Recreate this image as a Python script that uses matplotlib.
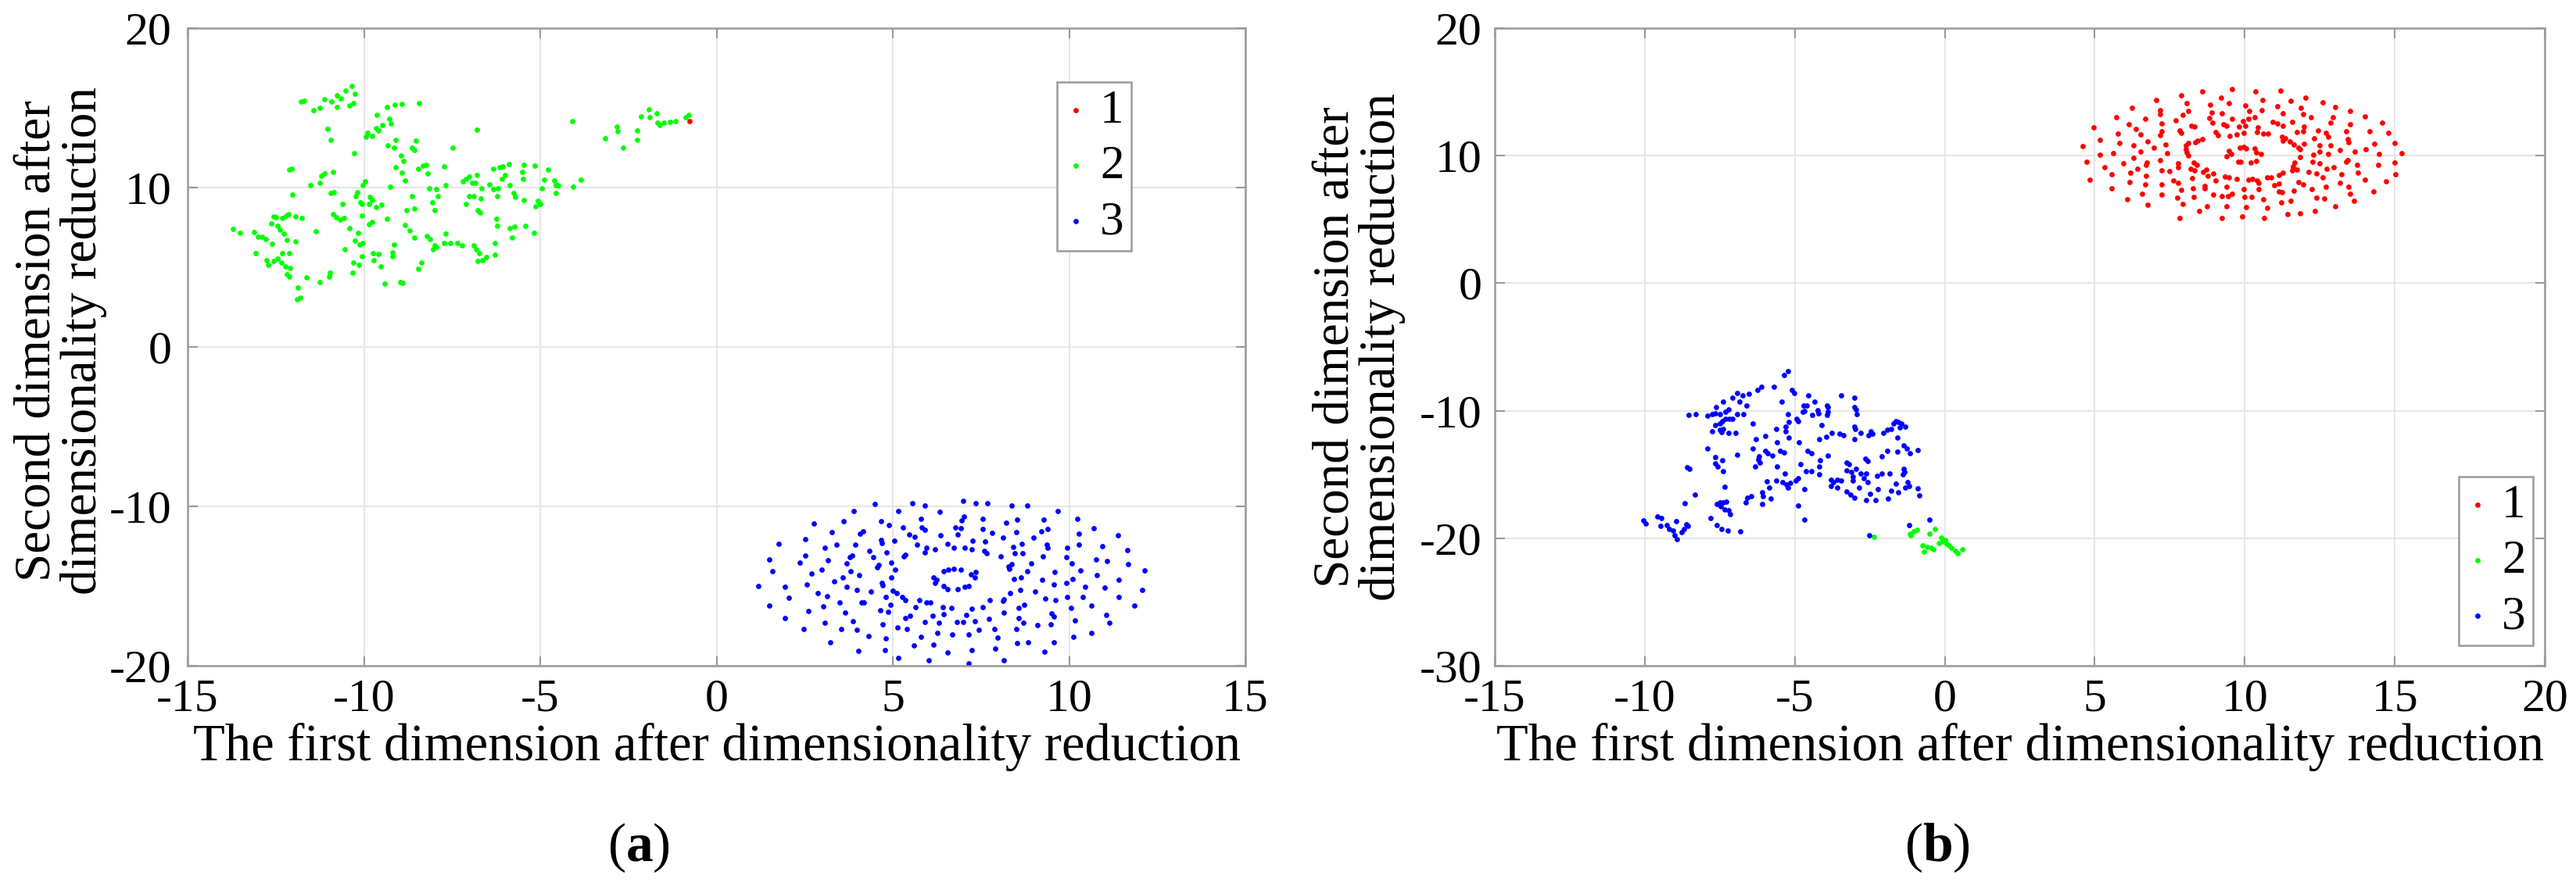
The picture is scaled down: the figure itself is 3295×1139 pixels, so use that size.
import numpy as np
import matplotlib
matplotlib.use("Agg")
from matplotlib import pyplot as plt

# ---- panel (a): points (x, y) ----
a_class1 = [(-0.76, 14.15)]

a_class2 = [
    (-11.78, 15.38), (-11.7, 15.46), (-11.44, 14.85), (-11.25, 15.0), (-11.13, 15.54), (-10.93, 15.38),
    (-10.77, 15.05), (-10.77, 15.79), (-10.66, 15.57), (-10.53, 16.07), (-10.34, 16.36), (-10.26, 15.9),
    (-10.4, 15.13), (-10.3, 15.3), (-11.02, 13.7), (-10.94, 12.97), (-10.28, 12.15), (-9.63, 14.56),
    (-9.35, 15.05), (-9.12, 15.2), (-8.92, 15.25), (-8.44, 15.3), (-9.29, 14.31), (-9.49, 13.9),
    (-9.66, 13.74), (-9.89, 13.41), (-9.77, 13.25), (-9.6, 13.57), (-9.94, 13.2), (-9.24, 14.03),
    (-6.79, 13.62), (-9.32, 12.67), (-9.15, 12.5), (-9.1, 13.0), (-8.95, 12.0), (-8.87, 11.69),
    (-8.64, 12.5), (-8.53, 12.92), (-8.57, 12.34), (-7.49, 12.49), (-9.1, 11.28), (-8.93, 10.95),
    (-8.47, 11.2), (-8.33, 11.36), (-8.24, 11.44), (-8.19, 10.87), (-7.73, 11.31), (-8.84, 10.43),
    (-12.12, 11.11), (-12.04, 11.2), (-11.21, 10.75), (-11.13, 10.87), (-10.87, 11.0), (-11.51, 10.13),
    (-11.25, 10.3), (-12.02, 9.56), (-10.94, 9.67), (-10.85, 9.72), (-9.97, 10.38), (-10.04, 10.13),
    (-9.26, 10.05), (-10.19, 9.72), (-10.23, 9.48), (-10.11, 9.07), (-10.06, 8.98), (-9.83, 9.39),
    (-9.77, 9.23), (-9.85, 8.98), (-10.62, 8.98), (-9.66, 8.79), (-9.51, 8.9), (-8.64, 9.48),
    (-8.07, 9.07), (-7.99, 8.57), (-8.15, 9.97), (-7.96, 9.92), (-7.9, 9.48), (-7.68, 10.13),
    (-8.79, 8.57), (-8.58, 8.66), (-10.87, 8.33), (-10.79, 8.16), (-10.68, 8.0), (-10.57, 8.08),
    (-10.06, 8.25), (-9.77, 7.84), (-9.85, 7.7), (-9.35, 8.03), (-10.4, 7.43), (-10.17, 7.18),
    (-10.26, 6.69), (-10.12, 6.44), (-10.03, 6.52), (-10.54, 6.15), (-11.36, 7.26), (-12.55, 8.21),
    (-12.5, 8.16), (-12.32, 8.08), (-12.21, 8.25), (-12.15, 8.33), (-11.95, 8.21), (-11.76, 8.11),
    (-12.63, 7.75), (-12.44, 7.59), (-12.38, 7.34), (-12.27, 7.13), (-13.71, 7.38), (-13.51, 7.18),
    (-13.12, 7.21), (-13.0, 6.93), (-12.89, 6.89), (-12.78, 6.77), (-12.61, 6.49), (-12.19, 6.72),
    (-11.93, 6.64), (-13.08, 5.87), (-12.75, 5.46), (-12.71, 5.13), (-12.55, 5.38), (-12.44, 5.54),
    (-12.32, 5.87), (-12.12, 5.87), (-12.35, 5.3), (-12.23, 5.05), (-12.1, 4.97), (-12.19, 4.56),
    (-12.12, 4.39), (-11.64, 4.34), (-11.87, 3.74), (-11.9, 3.0), (-11.81, 3.08), (-11.25, 4.07),
    (-10.99, 4.39), (-10.96, 4.64), (-10.32, 4.64), (-10.31, 5.3), (-10.14, 5.13), (-10.06, 5.7),
    (-9.74, 5.87), (-9.72, 5.46), (-9.58, 5.84), (-9.53, 5.05), (-9.2, 5.95), (-9.2, 5.7),
    (-9.41, 3.98), (-8.98, 4.07), (-8.9, 4.03), (-9.15, 6.44), (-8.83, 7.67), (-8.7, 7.31),
    (-8.58, 6.85), (-8.47, 4.89), (-8.36, 5.3), (-8.22, 6.98), (-8.13, 6.77), (-8.0, 6.39),
    (-8.04, 6.11), (-7.96, 6.28), (-7.68, 7.1), (-7.73, 6.52), (-7.56, 6.52), (-7.34, 6.52),
    (-7.22, 6.39), (-6.88, 6.36), (-6.82, 6.11), (-6.74, 5.87), (-6.77, 5.38), (-6.65, 5.46),
    (-6.54, 5.62), (-6.28, 5.79), (-6.28, 6.52), (-6.25, 8.03), (-6.23, 7.59), (-5.86, 7.43),
    (-5.74, 7.54), (-5.43, 7.59), (-5.18, 7.18), (-5.8, 6.85), (-6.71, 8.41), (-6.77, 8.57),
    (-7.11, 8.98), (-7.02, 9.48), (-6.88, 9.48), (-6.68, 9.31), (-7.19, 10.38), (-7.11, 10.54),
    (-7.02, 10.7), (-6.79, 10.79), (-6.94, 10.3), (-6.83, 10.3), (-6.66, 9.97), (-6.45, 10.21),
    (-6.34, 9.89), (-6.2, 9.97), (-6.23, 9.48), (-6.32, 11.2), (-6.15, 11.28), (-6.06, 11.31),
    (-5.89, 11.48), (-6.0, 10.79), (-6.09, 10.54), (-5.87, 10.13), (-5.76, 9.64), (-5.7, 9.39),
    (-5.47, 9.23), (-5.52, 10.98), (-5.47, 11.44), (-5.15, 11.36), (-5.49, 10.54), (-5.07, 9.15),
    (-5.13, 8.82), (-5.01, 8.98), (-4.9, 10.49), (-4.95, 9.97), (-4.78, 11.11), (-4.61, 10.46),
    (-4.56, 10.13), (-4.56, 9.64), (-4.5, 10.16), (-4.07, 10.05), (-3.84, 10.49), (-4.1, 14.15),
    (-3.16, 13.08), (-2.82, 13.82), (-2.8, 13.54), (-2.66, 12.51), (-2.26, 13.57), (-2.24, 13.0),
    (-2.15, 14.48), (-1.92, 14.92), (-1.89, 14.43), (-1.69, 14.64), (-1.67, 14.07), (-1.61, 13.9),
    (-1.5, 14.07), (-1.33, 14.1), (-1.16, 14.18), (-0.87, 14.39), (-0.78, 14.56),
]

a_class3 = [
    (4.49, -9.87), (3.9, -10.28), (5.56, -9.8), (5.92, -9.95), (6.32, -10.33), (7.0, -9.67),
    (7.34, -9.8), (7.69, -9.8), (8.36, -9.95), (8.81, -9.95), (9.67, -10.28), (10.24, -10.77),
    (10.69, -11.39), (11.39, -11.8), (11.66, -12.73), (12.15, -14.04), (11.68, -13.64), (12.08, -15.23),
    (11.85, -16.24), (11.41, -15.69), (11.14, -17.32), (11.06, -16.83), (10.63, -17.96), (10.12, -18.17),
    (9.57, -18.53), (9.3, -19.12), (8.83, -18.53), (8.53, -18.58), (8.15, -19.67), (7.9, -18.9),
    (7.24, -19.02), (7.14, -19.85), (6.55, -19.15), (6.03, -19.67), (6.15, -18.66), (5.59, -18.74),
    (5.16, -19.51), (4.78, -19.02), (4.02, -19.07), (3.22, -18.53), (2.48, -17.68), (1.95, -17.03),
    (1.49, -16.21), (1.19, -14.98), (1.59, -14.05), (1.49, -13.35), (1.77, -12.37), (2.51, -12.04),
    (2.75, -11.06), (3.6, -10.95), (3.27, -11.63),
    (1.94, -15.03), (2.06, -15.75), (2.36, -13.55), (2.51, -13.07), (2.56, -14.9), (2.61, -16.57),
    (2.7, -14.22), (2.88, -15.44), (3.03, -16.29), (3.06, -17.32), (2.98, -13.96), (3.08, -12.58),
    (3.17, -13.37), (3.14, -15.64), (3.33, -14.69), (3.41, -12.41), (3.5, -16.05), (3.54, -17.71),
    (3.59, -14.44), (3.65, -16.67), (3.69, -13.6), (3.7, -15.03), (3.77, -13.19), (3.8, -14.05),
    (3.85, -13.1), (3.87, -17.19), (3.93, -12.42), (3.97, -15.23), (3.97, -17.73), (4.04, -14.33),
    (4.07, -11.72), (4.15, -11.55), (4.12, -16.05), (4.19, -16.05), (4.31, -18.12), (4.33, -12.81),
    (4.39, -15.34), (4.45, -13.2), (4.56, -13.81), (4.61, -13.7), (4.64, -16.5), (4.66, -10.95),
    (4.66, -12.12), (4.69, -12.29), (4.7, -14.82), (4.72, -14.93), (4.72, -17.4), (4.8, -18.28),
    (4.82, -12.9), (4.81, -15.69), (4.86, -16.62), (4.9, -11.18), (4.93, -16.18), (4.96, -13.55),
    (4.96, -14.46), (5.01, -15.31), (5.04, -12.15), (5.06, -13.97), (5.11, -15.43), (5.14, -17.6),
    (5.16, -10.28), (5.28, -11.31), (5.26, -15.69), (5.31, -13.14), (5.36, -13.04), (5.36, -16.99),
    (5.36, -15.88), (5.41, -17.68), (5.46, -11.77), (5.48, -16.86), (5.63, -11.9), (5.65, -16.33),
    (5.68, -12.4), (5.75, -15.88), (5.8, -18.17), (5.8, -10.77), (5.83, -11.34), (5.91, -11.45),
    (5.95, -12.6), (5.9, -12.9), (5.92, -17.24), (5.95, -16.05), (6.07, -16.05), (6.12, -16.86),
    (6.15, -14.44), (6.2, -12.68), (6.2, -14.82), (6.27, -17.96), (6.35, -11.8), (6.42, -16.33),
    (6.45, -16.78), (6.45, -14.08), (6.3, -17.32), (6.55, -12.37), (6.55, -15.2), (6.57, -13.96),
    (6.69, -18.04), (6.67, -16.38), (6.73, -12.61), (6.77, -11.34), (6.82, -17.24), (6.85, -11.75),
    (6.93, -13.96), (6.94, -11.37), (6.96, -10.9), (7.02, -10.65), (6.83, -15.2), (6.99, -17.24),
    (7.04, -12.61), (7.04, -15.07), (7.09, -16.81), (7.14, -18.06), (7.16, -14.98), (7.22, -14.25),
    (7.24, -12.7), (7.24, -16.41), (7.27, -12.16), (7.33, -14.44), (7.32, -17.19), (7.34, -14.12),
    (7.44, -17.73), (7.54, -10.77), (7.54, -11.42), (7.54, -16.33), (7.6, -12.78), (7.62, -12.22),
    (7.66, -12.92), (7.72, -17.06), (7.76, -15.88), (7.82, -11.69), (7.89, -17.71), (7.97, -18.25),
    (8.07, -13.14), (8.15, -16.65), (8.13, -11.98), (8.13, -15.93), (8.15, -15.85), (8.21, -11.03),
    (8.29, -13.78), (8.31, -13.94), (8.33, -15.44), (8.38, -13.61), (8.41, -12.53), (8.43, -14.54),
    (8.46, -12.94), (8.5, -11.63), (8.53, -10.82), (8.5, -17.68), (8.56, -16.37), (8.58, -16.99),
    (8.61, -15.26), (8.63, -14.46), (8.65, -12.34), (8.68, -12.94), (8.7, -17.29), (8.73, -16.2),
    (8.81, -14.05), (8.93, -13.6), (9.0, -11.98), (9.03, -15.36), (9.11, -17.45), (9.21, -11.59),
    (9.23, -14.61), (9.25, -13.14), (9.28, -10.82), (9.33, -15.8), (9.36, -12.42), (9.38, -11.42),
    (9.4, -12.61), (9.47, -17.4), (9.5, -16.7), (9.57, -14.9), (9.57, -16.9), (9.6, -14.12),
    (9.62, -15.88), (9.92, -13.17), (9.92, -14.82), (9.94, -12.61), (9.95, -15.67), (10.05, -16.37),
    (10.07, -13.56), (10.1, -14.54), (10.17, -17.14), (10.27, -11.72), (10.27, -12.4), (10.32, -14.0),
    (10.39, -15.67), (10.45, -15.03), (10.63, -16.21), (10.76, -13.35), (10.79, -14.3), (10.94, -12.48),
    (11.01, -15.1), (11.08, -13.43), (11.41, -14.61), (6.25, -14.6), (6.45, -15.0), (6.73, -13.92),
]

# ---- panel (b) ----
b_class1 = [
    (9.57, 15.24), (8.58, 15.04), (10.35, 15.04), (11.19, 15.1), (7.87, 14.7), (7.04, 14.37),
    (9.22, 14.53), (8.06, 14.13), (9.48, 14.13), (10.59, 14.37), (12.03, 14.53), (11.52, 14.29),
    (12.61, 14.19), (8.85, 14.02), (10.03, 13.96), (6.24, 13.76), (11.09, 13.88), (11.87, 13.78),
    (13.02, 13.82), (7.19, 13.56), (8.11, 13.48), (8.9, 13.41), (9.23, 13.35), (10.16, 13.52),
    (10.57, 13.58), (11.28, 13.35), (11.96, 13.27), (13.5, 13.52), (7.17, 13.27), (5.71, 13.01),
    (6.67, 12.87), (7.93, 13.21), (7.7, 12.8), (8.81, 12.95), (9.57, 12.91), (10.13, 12.87),
    (10.32, 13.01), (9.94, 12.7), (12.2, 13.01), (12.93, 13.01), (14.0, 13.07), (12.87, 12.6),
    (4.96, 12.2), (6.13, 12.46), (7.22, 12.54), (8.93, 12.6), (9.29, 12.46), (9.39, 12.36),
    (9.81, 12.3), (10.03, 12.36), (10.93, 12.66), (11.09, 12.5), (11.26, 12.36), (11.59, 12.66),
    (11.98, 12.3), (13.5, 12.46), (14.57, 12.6), (6.37, 12.09), (7.83, 11.95), (8.22, 12.36),
    (8.32, 12.3), (10.43, 12.2), (5.78, 11.75), (6.52, 11.65), (7.24, 11.89), (7.19, 11.59),
    (7.89, 11.79), (9.04, 11.83), (9.1, 11.63), (9.5, 11.52), (9.74, 11.69), (9.96, 11.79),
    (10.41, 11.83), (10.63, 11.75), (10.78, 11.75), (11.74, 11.85), (11.96, 11.89), (12.45, 11.99),
    (12.7, 11.79), (12.77, 11.48), (13.37, 11.93), (14.16, 11.93), (14.78, 11.79), (5.17, 11.24),
    (6.77, 11.14), (8.58, 11.32), (8.43, 11.18), (8.36, 11.04), (11.24, 11.48), (11.34, 11.38),
    (11.28, 11.18), (11.5, 11.14), (12.3, 11.38), (13.43, 11.32), (14.99, 11.02), (4.61, 10.77),
    (5.83, 11.02), (6.3, 10.81), (6.98, 10.63), (7.37, 10.87), (8.04, 10.83), (8.11, 11.02),
    (11.63, 10.89), (11.98, 10.93), (12.5, 10.83), (12.85, 10.83), (13.45, 11.04), (14.33, 10.93),
    (11.78, 10.61), (8.03, 10.51), (9.48, 10.37), (9.54, 10.16), (9.83, 10.61), (9.96, 10.67),
    (10.04, 10.57), (10.32, 10.57), (10.39, 10.26), (10.54, 10.12), (11.84, 10.51), (13.16, 10.47),
    (14.04, 10.53), (6.52, 10.32), (7.4, 10.2), (8.07, 10.26), (5.17, 10.06), (5.61, 10.2),
    (8.11, 10.02), (9.39, 9.96), (12.28, 10.06), (12.49, 10.32), (12.79, 10.12), (13.67, 10.32),
    (14.48, 10.12), (15.24, 10.22), (4.72, 9.55), (6.3, 9.8), (7.17, 9.65), (6.74, 9.49),
    (11.84, 9.86), (9.78, 9.55), (9.87, 9.55), (10.2, 9.49), (10.39, 9.61), (5.96, 9.41),
    (6.7, 9.25), (7.78, 9.39), (7.77, 9.09), (8.3, 9.45), (8.39, 9.29), (12.26, 9.55),
    (12.5, 9.39), (13.42, 9.65), (13.37, 9.51), (14.99, 9.45), (11.65, 9.45), (5.32, 9.11),
    (11.61, 9.15), (13.74, 9.25), (14.46, 9.25), (6.43, 8.94), (7.23, 8.84), (7.5, 8.8),
    (8.2, 8.98), (8.32, 8.84), (8.61, 8.74), (8.72, 8.88), (11.57, 8.84), (11.74, 8.9),
    (12.72, 8.94), (12.97, 9.11), (5.57, 8.54), (6.19, 8.68), (6.7, 8.43), (8.78, 8.43),
    (8.96, 8.58), (9.35, 8.33), (9.48, 8.29), (9.72, 8.19), (10.13, 8.13), (10.26, 8.19),
    (10.41, 8.07), (10.74, 8.27), (10.87, 8.27), (11.13, 8.5), (11.28, 8.64), (12.13, 8.7),
    (12.39, 8.6), (12.59, 8.29), (13.22, 8.54), (13.78, 8.68), (15.01, 8.54), (4.84, 8.13),
    (8.25, 8.23), (7.61, 8.03), (14.0, 8.13), (6.16, 7.93), (6.67, 7.72), (7.22, 7.72),
    (7.77, 7.87), (8.67, 7.62), (8.67, 7.42), (9.03, 8.03), (9.39, 7.58), (10.46, 7.89),
    (10.98, 7.68), (11.15, 7.78), (11.78, 7.93), (11.96, 7.72), (12.7, 7.58), (13.16, 7.87),
    (13.46, 7.58), (14.7, 7.97), (5.57, 7.42), (7.87, 7.32), (8.28, 7.42), (9.96, 7.36),
    (10.46, 7.36), (11.15, 7.17), (11.24, 7.11), (11.63, 7.26), (12.24, 7.4), (13.52, 7.01),
    (14.3, 7.17), (6.57, 7.01), (7.24, 6.95), (8.96, 6.95), (9.23, 6.85), (9.45, 6.81),
    (9.57, 7.01), (6.09, 6.57), (7.76, 6.71), (8.3, 6.77), (10.0, 6.75), (10.24, 6.77),
    (10.63, 6.61), (11.22, 6.36), (11.52, 6.44), (12.39, 6.71), (12.66, 6.65), (13.65, 6.44),
    (6.76, 6.14), (7.93, 6.24), (8.74, 6.06), (9.39, 6.04), (10.04, 5.96), (10.76, 5.89),
    (13.02, 6.04), (8.48, 5.69), (12.35, 5.69), (11.42, 5.39), (11.83, 5.49), (7.84, 5.14),
    (9.23, 5.08), (9.91, 5.22), (10.65, 5.14),
]

b_class2 = [
    (-2.37, -19.86), (-1.15, -19.65), (-1.02, -19.45), (-0.94, -19.35), (-1.13, -19.76), (-0.52, -19.65),
    (-0.33, -19.25), (-0.75, -20.57), (-0.69, -21.08), (-0.6, -20.67), (-0.47, -20.77), (-0.37, -20.87),
    (-0.2, -20.37), (-0.07, -20.26), (0.02, -20.16), (0.06, -20.47), (0.15, -20.57), (0.23, -20.77),
    (0.36, -20.98), (0.43, -21.18), (0.58, -20.87), (-0.11, -19.96),
]

b_class3 = [
    (-5.24, -6.9), (-5.35, -7.18), (-5.7, -8.15), (-5.1, -8.37), (-5.02, -8.6), (-6.25, -8.37),
    (-6.11, -8.15), (-6.52, -8.7), (-6.74, -8.8), (-6.93, -8.6), (-7.07, -9.0), (-7.4, -9.3),
    (-7.62, -9.7), (-6.85, -9.26), (-7.3, -10.1), (-4.55, -8.8), (-4.34, -9.3), (-4.6, -9.6),
    (-3.93, -9.6), (-3.46, -8.8), (-3.02, -9.0), (-3.02, -9.7), (-3.9, -10.1), (-5.43, -9.3),
    (-4.74, -10.1),
    (-8.53, -10.35), (-8.31, -10.26), (-7.92, -10.41), (-7.76, -10.26), (-7.64, -10.2), (-7.5, -10.24),
    (-7.22, -9.9), (-6.92, -10.3), (-6.7, -10.3), (-6.6, -9.59), (-5.23, -10.3), (-4.71, -9.59),
    (-4.67, -10.0), (-4.41, -10.35), (-4.23, -9.94), (-4.21, -10.2), (-3.93, -10.35), (-3.89, -9.7),
    (-2.96, -9.9), (-2.93, -10.3), (-7.64, -11.12), (-7.5, -11.02), (-7.42, -10.81), (-7.31, -10.61),
    (-7.18, -10.61), (-7.09, -10.61), (-7.75, -11.59), (-7.5, -11.52), (-7.44, -11.69), (-7.4, -11.42),
    (-7.21, -11.73), (-6.98, -11.73), (-6.4, -11.02), (-5.62, -11.46), (-5.21, -10.91), (-5.31, -11.28),
    (-5.31, -11.63), (-4.93, -10.61), (-4.88, -10.81), (-4.1, -11.12), (-3.76, -11.73), (-3.95, -12.03),
    (-4.19, -12.24), (-3.5, -11.83), (-3.37, -11.93), (-3.02, -11.22), (-2.98, -11.42), (-2.8, -11.73),
    (-2.54, -11.93), (-2.41, -11.83), (-2.46, -11.63), (-3.02, -12.2), (-2.06, -11.73), (-1.93, -11.52),
    (-1.8, -11.42), (-1.72, -11.02), (-1.63, -10.81), (-1.54, -10.91), (-1.45, -11.02), (-1.33, -11.22),
    (-1.5, -11.32), (-1.57, -12.09), (-6.29, -12.2), (-5.99, -11.97), (-5.59, -12.5), (-5.19, -12.13),
    (-4.87, -12.5), (-7.9, -12.95), (-6.92, -13.46), (-6.4, -12.95), (-6.2, -13.56), (-6.23, -13.82),
    (-6.31, -14.37), (-6.17, -14.07), (-5.97, -13.15), (-5.91, -13.35), (-5.75, -13.52), (-5.49, -13.15),
    (-5.36, -13.25), (-5.58, -14.37), (-4.58, -13.15), (-4.45, -13.35), (-3.89, -13.52), (-4.15, -13.86),
    (-4.19, -14.37), (-4.19, -14.98), (-4.81, -14.17), (-4.64, -14.74), (-4.45, -14.74), (-1.93, -13.15),
    (-2.09, -13.56), (-1.58, -13.19), (-1.37, -12.74), (-1.26, -12.95), (-1.15, -13.31), (-0.89, -13.09),
    (-7.66, -13.66), (-7.64, -14.13), (-7.57, -14.37), (-7.42, -13.86), (-7.38, -14.74), (-8.59, -14.41),
    (-8.52, -14.57), (-5.33, -14.94), (-5.94, -15.55), (-5.62, -15.49), (-5.84, -16.0), (-6.1, -16.4),
    (-6.05, -16.71), (-6.57, -16.81), (-6.44, -16.71), (-6.63, -17.22), (-6.1, -17.32), (-5.79, -16.91),
    (-5.4, -15.59), (-5.27, -15.79), (-5.16, -15.69), (-5.23, -16.0), (-4.97, -15.49), (-4.9, -15.29),
    (-4.69, -16.16), (-4.9, -17.42), (-4.69, -18.54), (-7.33, -15.96), (-8.33, -16.61), (-8.67, -17.28),
    (-7.61, -17.32), (-7.5, -17.17), (-7.4, -17.22), (-7.29, -17.11), (-7.48, -17.52), (-7.35, -17.72),
    (-7.22, -17.83), (-7.16, -18.09), (-7.81, -18.39), (-7.61, -18.98), (-7.44, -19.25), (-7.24, -19.39),
    (-6.81, -19.45), (-10.06, -18.6), (-9.97, -18.84), (-9.57, -18.27), (-9.44, -18.43), (-9.48, -19.05),
    (-9.26, -18.94), (-9.18, -19.25), (-9.06, -19.41), (-8.96, -18.64), (-9.0, -19.76), (-8.94, -20.06),
    (-8.76, -19.55), (-8.7, -19.25), (-8.61, -18.88), (-8.57, -19.05), (-3.8, -15.39), (-3.71, -15.59),
    (-3.58, -15.39), (-3.45, -15.49), (-3.8, -15.9), (-3.58, -16.0), (-3.28, -14.07), (-3.19, -14.21),
    (-3.28, -14.67), (-3.11, -14.78), (-2.95, -14.53), (-3.07, -15.19), (-3.07, -15.49), (-2.86, -16.0),
    (-2.8, -14.94), (-2.71, -15.29), (-2.62, -14.94), (-2.66, -13.76), (-2.58, -13.92), (-2.56, -15.59),
    (-2.5, -16.5), (-2.62, -17.01), (-2.32, -17.01), (-3.28, -16.36), (-3.15, -16.61), (-3.02, -16.81),
    (-2.25, -15.08), (-2.11, -14.94), (-1.85, -14.94), (-2.24, -16.16), (-1.8, -16.3), (-1.89, -16.91),
    (-1.63, -15.75), (-1.55, -16.4), (-1.37, -14.57), (-1.39, -14.98), (-1.34, -14.78), (-1.33, -16.0),
    (-1.24, -15.59), (-1.2, -15.9), (-0.89, -16.1), (-0.85, -16.65), (-1.2, -18.94), (-0.52, -18.54),
    (-2.52, -19.76),
]

labels = ["1", "2", "3"]
colors = ["#ff0000", "#00ff00", "#0000ff"]
xlabel = "The first dimension after dimensionality reduction"
ylabel = "Second dimension after\ndimensionality reduction"

plt.rcParams["font.family"] = ["Liberation Serif", "DejaVu Serif"]
plt.rcParams["mathtext.fontset"] = "custom"
plt.rcParams["mathtext.rm"] = "Liberation Serif"
plt.rcParams["mathtext.bf"] = "Liberation Serif:bold"
plt.rcParams["axes.unicode_minus"] = False

W, H = 3295, 1139
fig = plt.figure(figsize=(W / 100, H / 100), dpi=100)

frame_col = "#9a9a9a"
grid_col = "#e6e6e6"


def px_axes(x0, y0, x1, y1):
    return fig.add_axes([x0 / W, 1 - y1 / H, (x1 - x0) / W, (y1 - y0) / H])


def style(ax, xlim, ylim, xticks, yticks, ypad):
    ax.set_xlim(*xlim)
    ax.set_ylim(*ylim)
    ax.set_xticks(xticks)
    ax.set_yticks(yticks)
    ax.grid(True, color=grid_col, linewidth=1.5)
    ax.set_axisbelow(True)
    for s in ax.spines.values():
        s.set_color(frame_col)
        s.set_linewidth(1.8)
    ax.tick_params(direction="in", top=True, right=True, length=9, width=1.5,
                   color=frame_col, labelsize=43, labelcolor="black")
    ax.tick_params(axis="x", pad=12)
    ax.tick_params(axis="y", pad=ypad)
    ax.set_xlabel(xlabel, fontsize=48, labelpad=2)
    ax.set_ylabel(ylabel, fontsize=47, linespacing=0.95, va="center", ha="center")


def draw(ax, groups):
    for pts, lab, col in zip(groups, labels, colors):
        arr = np.array(pts)
        ax.scatter(arr[:, 0], arr[:, 1], s=24, c=col, linewidths=0, label=lab)


ax1 = px_axes(240, 36, 1593, 852)
draw(ax1, [a_class1, a_class2, a_class3])
style(ax1, (-15, 15), (-20, 20), range(-15, 16, 5), range(-20, 21, 10), 15)
ax1.yaxis.set_label_coords(-162 / 1353, 0.51)

ax2 = px_axes(1912, 36, 3255, 852)
draw(ax2, [b_class1, b_class2, b_class3])
style(ax2, (-15, 20), (-30, 20), range(-15, 21, 5), range(-30, 21, 10), 12)
ax2.yaxis.set_label_coords(-173 / 1343, 0.5)

leg_kw = dict(fontsize=44, frameon=True, fancybox=False, framealpha=1, edgecolor=frame_col,
              handlelength=0.5, handletextpad=0.25, borderpad=0.15, labelspacing=0.25,
              borderaxespad=0, scatterpoints=1, loc="upper left")
l1 = ax1.legend(bbox_to_anchor=(1352 / W, 1 - 105 / H), bbox_transform=fig.transFigure, **leg_kw)
l2 = ax2.legend(bbox_to_anchor=(3145 / W, 1 - 610 / H), bbox_transform=fig.transFigure, **leg_kw)
for lg in (l1, l2):
    lg.get_frame().set_linewidth(1.8)

fig.text(817 / W, 1 - 1085 / H, r"($\mathbf{a}$)", fontsize=50, ha="center", va="center")
fig.text(2478 / W, 1 - 1085 / H, r"($\mathbf{b}$)", fontsize=50, ha="center", va="center")

fig.savefig("out.png", dpi=100, facecolor="white")
